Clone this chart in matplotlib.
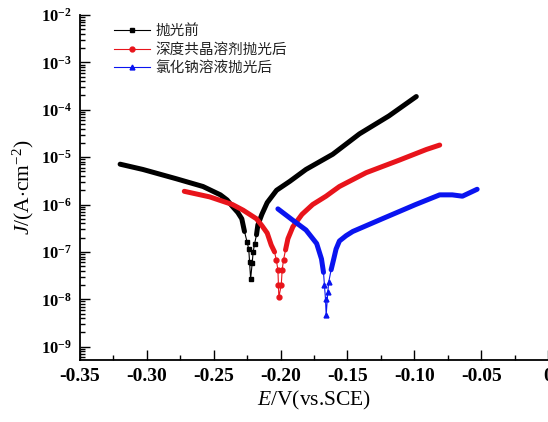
import numpy as np
import matplotlib
matplotlib.use("Agg")
import matplotlib.pyplot as plt
from matplotlib.lines import Line2D
from matplotlib.ticker import (FixedLocator, LogLocator, MultipleLocator,
                               FuncFormatter, NullFormatter)

plt.rcParams['font.family'] = ['Liberation Serif', 'DejaVu Serif']
plt.rcParams['mathtext.fontset'] = 'custom'
plt.rcParams['mathtext.rm'] = 'Liberation Serif'
plt.rcParams['mathtext.it'] = 'Liberation Serif:italic'
plt.rcParams['mathtext.bf'] = 'Liberation Serif:bold'
plt.rcParams['axes.unicode_minus'] = False

# ---- data (E in V vs SCE, J in A/cm^2) ----
labels = ["抛光前", "深度共晶溶剂抛光后", "氯化钠溶液抛光后"]
y_decades = [-9, -8, -7, -6, -5, -4, -3, -2]

e_before = [-0.320, -0.303, -0.278, -0.258, -0.245, -0.240, -0.236, -0.232,
            -0.229, -0.227, -0.225, -0.2238, -0.2232, -0.2224, -0.2212,
            -0.2205, -0.2194, -0.218, -0.217, -0.214, -0.210, -0.203, -0.193,
            -0.181, -0.161, -0.141, -0.119, -0.0985]
j_before = [7.1e-6, 5.5e-6, 3.5e-6, 2.4e-6, 1.6e-6, 1.25e-6, 9.1e-7, 6.8e-7,
            5.0e-7, 2.7e-7, 1.6e-7, 1.15e-7, 6.2e-8, 2.7e-8, 5.9e-8,
            1.0e-7, 1.5e-7, 2.3e-7, 3.7e-7, 6.2e-7, 1.1e-6, 2.0e-6, 3.1e-6,
            5.5e-6, 1.15e-5, 3.1e-5, 7.4e-5, 1.9e-4]

e_des = [-0.272, -0.253, -0.236, -0.228, -0.218, -0.214, -0.210, -0.207,
         -0.2045, -0.2032, -0.2020, -0.2016, -0.2013, -0.1995, -0.1988,
         -0.1978, -0.1963, -0.1945, -0.1908, -0.184, -0.176, -0.166, -0.161,
         -0.156, -0.136, -0.111, -0.091, -0.081]
j_des = [1.9e-6, 1.45e-6, 1.0e-6, 7.6e-7, 5.0e-7, 3.6e-7, 2.5e-7, 1.4e-7,
         1.0e-7, 6.8e-8, 4.2e-8, 2.0e-8, 1.1e-8, 2.0e-8, 4.2e-8,
         6.8e-8, 1.1e-7, 1.9e-7, 3.4e-7, 6.2e-7, 1.0e-6, 1.5e-6, 1.9e-6,
         2.4e-6, 4.7e-6, 8.7e-6, 1.45e-5, 1.8e-5]

e_nacl = [-0.202, -0.191, -0.181, -0.173, -0.1694, -0.1679, -0.1672, -0.1664,
          -0.1659, -0.1647, -0.1640, -0.1622, -0.1604, -0.1585, -0.156,
          -0.151, -0.146, -0.124, -0.099, -0.081, -0.0716, -0.064, -0.053]
j_nacl = [8.1e-7, 4.7e-7, 2.9e-7, 1.5e-7, 7.1e-8, 3.7e-8, 2.0e-8, 1.0e-8,
          4.6e-9, 1.4e-8, 2.3e-8, 4.2e-8, 6.8e-8, 1.15e-7, 1.7e-7,
          2.2e-7, 2.7e-7, 5.0e-7, 1.0e-6, 1.6e-6, 1.6e-6, 1.5e-6, 2.1e-6]

series = [
    (e_before, j_before, "black", "s"),
    (e_des, j_des, "#e8141b", "o"),
    (e_nacl, j_nacl, "#0a14f0", "^"),
]

fig = plt.figure(figsize=(5.48, 4.22), dpi=100)
ax = fig.add_axes([0.146, 0.147, 0.854, 0.8175])

handles = []
for (e, j, col, mk), lab in zip(series, labels):
    e = np.array(e)
    j = np.array(j)
    # dense measured points merge into a thick band away from the minimum
    thick = np.log10(j) > np.log10(j.min()) + 0.9
    ax.plot(e, np.where(thick, j, np.nan), color=col, lw=3.6,
            solid_capstyle="round", solid_joinstyle="round")
    ax.plot(e, j, color=col, lw=0.8, marker=mk, ms=3.5, markevery=list(~thick))
    handles.append(Line2D([], [], color=col, lw=0.8, marker=mk, ms=3.5, label=lab))

ax.set_yscale("log")
ax.set_xlim(-0.35, 0.0)
ax.set_ylim(10 ** -9.28, 1e-2)

ax.xaxis.set_major_locator(MultipleLocator(0.05))
ax.xaxis.set_minor_locator(MultipleLocator(0.025))
ax.xaxis.set_major_formatter(FuncFormatter(lambda v, p: "0" if abs(v) < 1e-9 else f"{v:.2f}"))
ax.yaxis.set_major_locator(FixedLocator([10.0 ** d for d in y_decades]))
ax.yaxis.set_minor_locator(LogLocator(base=10, subs=np.arange(2, 10), numticks=20))
ax.yaxis.set_minor_formatter(NullFormatter())
ax.yaxis.set_major_formatter(FuncFormatter(
    lambda v, p: r"$\mathbf{10^{%d}}$" % round(np.log10(v))))

ax.tick_params(which="both", direction="in", width=1.0, top=False, right=False)
ax.tick_params(which="major", length=7)
ax.tick_params(which="minor", length=3.5)
ax.tick_params(axis="x", which="major", labelsize=14, pad=6)
ax.tick_params(axis="y", which="major", labelsize=12, pad=6)
for t in ax.get_xticklabels():
    t.set_fontweight("bold")

for s in ["top", "right"]:
    ax.spines[s].set_visible(False)
for s in ["left", "bottom"]:
    ax.spines[s].set_linewidth(1.3)

ax.set_xlabel(r"$E$/V(vs.SCE)", fontsize=15.5, labelpad=3)
ax.set_ylabel(r"$J$/(A$\cdot$cm$^{-2}$)", fontsize=15.5, labelpad=3)

leg = ax.legend(handles=handles, loc="upper left", bbox_to_anchor=(0.06, 0.99),
                frameon=False,
                prop={"family": ["Noto Sans CJK SC", "DejaVu Sans"], "size": 10.5},
                handlelength=2.5, handletextpad=0.35, labelspacing=0.3,
                borderaxespad=0)
for t in leg.get_texts():
    t.set_color("#222222")

fig.savefig("out.png", dpi=100)
